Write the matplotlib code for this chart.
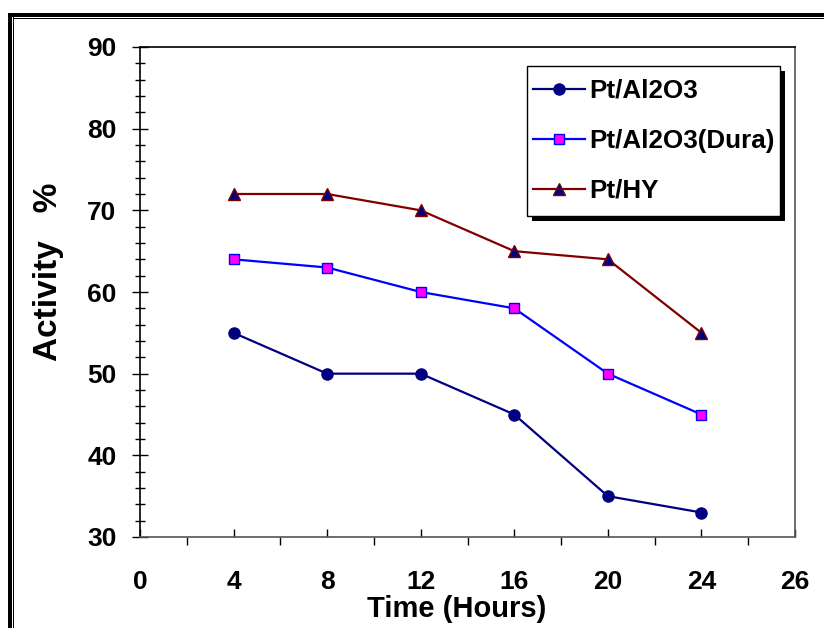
import matplotlib
matplotlib.use("Agg")
import matplotlib.pyplot as plt
from matplotlib.patches import Rectangle
from matplotlib.ticker import MultipleLocator

# data
hours = [4, 8, 12, 16, 20, 24]
pt_al2o3 = [55, 50, 50, 45, 35, 33]
pt_al2o3_dura = [64, 63, 60, 58, 50, 45]
pt_hy = [72, 72, 70, 65, 64, 55]

x_ticks = [0, 4, 8, 12, 16, 20, 24, 28]
x_tick_labels = ["0", "4", "8", "12", "16", "20", "24", "26"]

plt.rcParams['font.family'] = ['Liberation Sans', 'DejaVu Sans']
plt.rcParams['font.weight'] = 'bold'

W, H = 824, 628
fig = plt.figure(figsize=(W / 100, H / 100), dpi=100)
ax = fig.add_axes([140 / W, 1 - 537 / H, 655 / W, 490 / H])

ax.plot(hours, pt_al2o3, color='#000080', lw=1.6, marker='o', ms=8,
        mfc='#000080', mec='#000080', label='Pt/Al2O3', zorder=3)
ax.plot(hours, pt_al2o3_dura, color='#0000FF', lw=1.6, marker='s', ms=7,
        mfc='#FF00FF', mec='#0000FF', mew=1, label='Pt/Al2O3(Dura)', zorder=3)
ax.plot(hours, pt_hy, color='#800000', lw=1.6, marker='^', ms=8,
        mfc='#000080', mec='#800000', mew=1, label='Pt/HY', zorder=3)

ax.set_xlim(0, 28)
ax.set_ylim(30, 90)
ax.set_xticks(x_ticks)
ax.set_xticklabels(x_tick_labels)
ax.xaxis.set_minor_locator(MultipleLocator(2))
ax.yaxis.set_major_locator(MultipleLocator(10))
ax.yaxis.set_minor_locator(MultipleLocator(2))

ax.tick_params(axis='x', which='major', direction='in', length=6, width=1,
               pad=24, labelsize=19)
ax.tick_params(axis='x', which='minor', direction='out', length=6, width=1)
ax.tick_params(axis='y', which='major', direction='inout', length=12, width=1,
               pad=11, labelsize=19)
ax.tick_params(axis='y', which='minor', direction='inout', length=7, width=1)

for s in ['top', 'left']:
    ax.spines[s].set_color('black')
for s in ['right', 'bottom']:
    ax.spines[s].set_color('#555555')
for s in ax.spines.values():
    s.set_linewidth(1.2)

ax.text(-0.140, 0.542, "Activity   %", transform=ax.transAxes, rotation=90,
        ha='center', va='center', fontsize=24, fontweight='bold')
ax.text(0.484, -0.118, "Time (Hours)", transform=ax.transAxes,
        ha='center', va='top', fontsize=21, fontweight='bold')

leg = ax.legend(loc='upper left', bbox_to_anchor=(0.600, 0.935), fontsize=18.7,
                frameon=False, handlelength=2.0, labelspacing=1.0,
                borderpad=0, handletextpad=0.15, borderaxespad=0)

# legend box with a hard drop shadow, padded like the original
fig.canvas.draw()
bb = leg.get_window_extent()
px, py = 6, 13
frame = Rectangle((bb.x0 - px, bb.y0 - py), bb.width + 2 * px,
                  bb.height + 2 * py, transform=None, facecolor='white',
                  edgecolor='black', lw=1.0, zorder=4.6, clip_on=False)
shadow = Rectangle((bb.x0 - px + 5, bb.y0 - py - 5), bb.width + 2 * px,
                   bb.height + 2 * py, transform=None, facecolor='black',
                   edgecolor='none', zorder=4.5, clip_on=False)
ax.add_artist(shadow)
ax.add_artist(frame)

# outer frame (left double line, top line)
def px_rect(x0, y0, w, h):
    return Rectangle((x0 / W, 1 - (y0 + h) / H), w / W, h / H,
                     transform=fig.transFigure, facecolor='black',
                     edgecolor='none')

fig.add_artist(px_rect(8, 13, 3.5, H - 13))
fig.add_artist(px_rect(12.5, 17, 1, H - 17))
fig.add_artist(px_rect(8, 13, W - 8, 4))
fig.add_artist(px_rect(12.5, 18, W - 12.5, 0.8))

fig.savefig("out.png", dpi=100)
